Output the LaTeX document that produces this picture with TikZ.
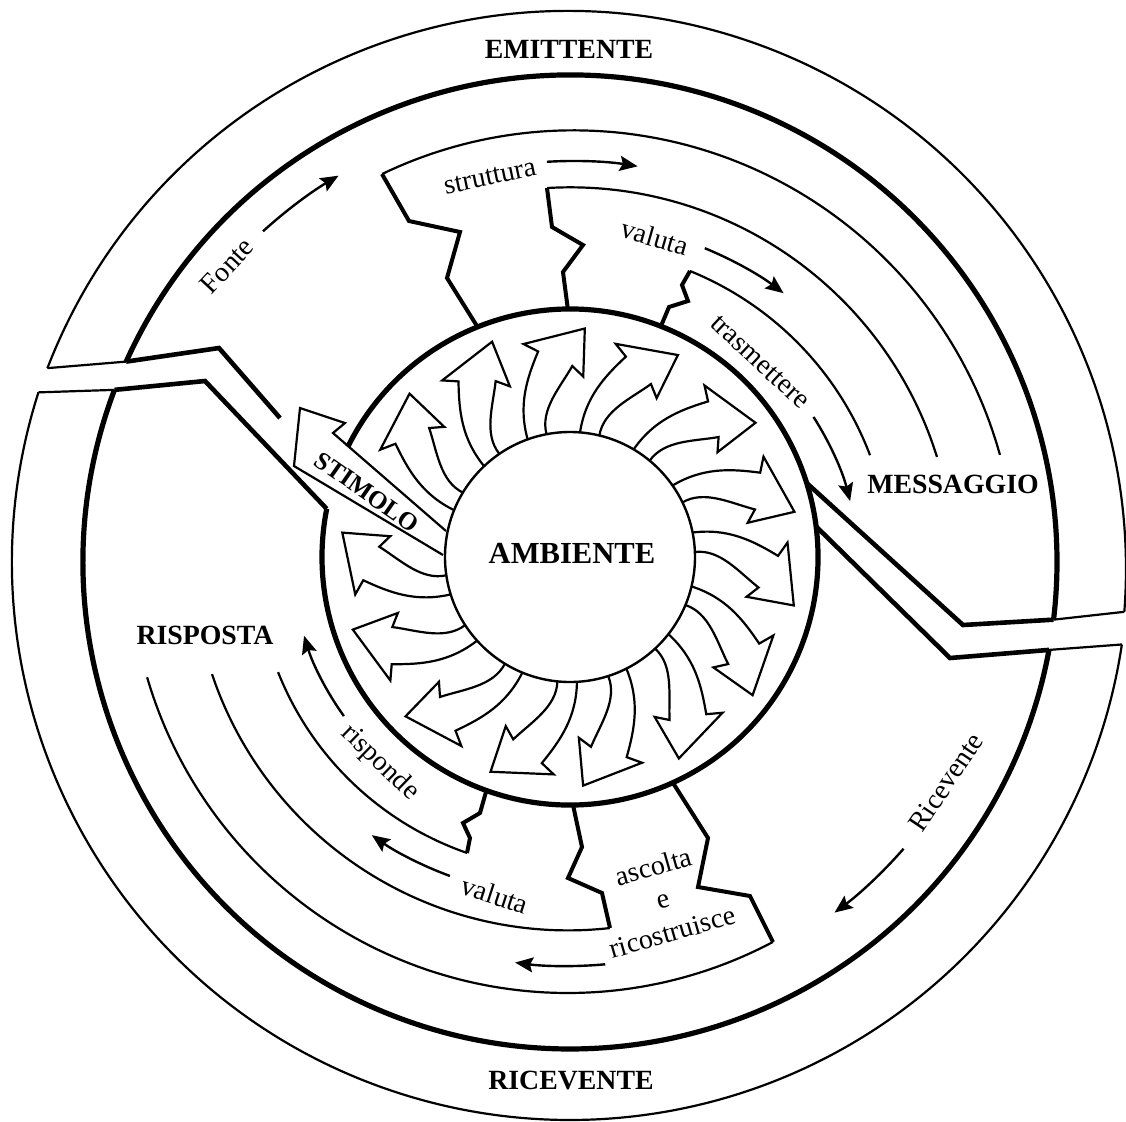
\documentclass[tikz,border=0pt]{standalone}
\usepackage{fontspec}
\setmainfont{Liberation Serif}
\usetikzlibrary{arrows.meta,calc}
\newcommand\spiralarc[6]{%
  \draw[thinarc] plot[domain=#3:#4, samples=90, variable=\t]
   ({#1+(#5+(#6-#5)*(\t-#3)/(#4-#3))*cos(\t)},
    {#2-(#5+(#6-#5)*(\t-#3)/(#4-#3))*sin(\t)});}
\begin{document}
\begin{tikzpicture}[x=0.5pt,y=-0.5pt,
  thinarc/.style={line width=1.1pt},
  heavy/.style={line width=2.6pt},
  chan/.style={line width=2.3pt, line join=miter},
  zig/.style={line width=2pt, line join=miter},
  ringarrow/.style={line width=1.1pt, line join=miter},
  flowarrow/.style={line width=1.2pt, -{Stealth[length=9pt,width=7.5pt,inset=1.5pt]}},
  caps/.style={font=\fontsize{13.9}{16}\selectfont\bfseries, inner sep=0pt},
  lab/.style={font=\fontsize{14}{17}\selectfont, inner sep=0pt}]
\useasboundingbox (0,0) rectangle (1126,1121);
\clip (0,0) rectangle (1126,1121);
\fill[white] (0,0) rectangle (1126,1121);

\coordinate (RC) at (570,557);
\coordinate (U) at (572,572);
\coordinate (L) at (568,555);
\coordinate (B) at (570,562);
\coordinate (O) at (568,569);
\coordinate (O2) at (570,562);

% outer thin circle, two halves
\draw[thinarc] ($(O)+(-158.9:558)$) coordinate (ou1) arc[start angle=-158.9, end angle=4.4, radius=558] coordinate (ou2);
\draw[thinarc] ($(O2)+(-162.3:558)$) coordinate (ol1) arc[start angle=-162.3, end angle=-351.5, radius=558] coordinate (ol2);
% big thick arcs
\draw[heavy] ($(B)+(-155.7:487)$) coordinate (bu1) arc[start angle=-155.7, end angle=6.8, radius=487] coordinate (bu2);
\draw[heavy] ($(B)+(-159.3:487)$) coordinate (bl1) arc[start angle=-159.3, end angle=-349.6, radius=487] coordinate (bl2);
% middle ring
\draw[heavy] ($(RC)+(-153.6:248)$) coordinate (rg1) arc[start angle=-153.6, end angle=191.2, radius=248] coordinate (rg2);

\coordinate (rjU) at ($(RC)+(-17.35:248)$);
\coordinate (rjL) at ($(RC)+(-7.07:248)$);
\coordinate (z1) at ($(RC)+(-111.9:248)$);
\coordinate (z2) at ($(RC)+(-90.5:248)$);
\coordinate (z3) at ($(RC)+(-68.5:248)$);
\coordinate (z4) at ($(RC)+(-250.3:248)$);
\coordinate (z5) at ($(RC)+(-270.7:248)$);
\coordinate (z6) at ($(RC)+(-294.5:248)$);

% channel between the two halves
\draw[thinarc] (ou1) -- (bu1);
\draw[chan] (bu1) -- (219,348) -- (280,418);
\draw[thinarc] (ol1) -- (bl1);
\draw[chan] (bl1) -- (205,381) -- (rg2);
\draw[chan] (rjU) -- (963,625) -- (bu2);
\draw[thinarc] (bu2) -- (ou2);
\draw[chan] (rjL) -- (950,658) -- (bl2);
\draw[thinarc] (bl2) -- (ol2);

% zigzag separators
\draw[zig] (z1) -- (447,278) -- (460,232) -- (409,221) -- (382,174);
\draw[zig] (z2) -- (563,272) -- (583,245) -- (552,227) -- (547,188);
\draw[zig] (z3) -- (669,307) -- (688,301) -- (682,285) -- (690,271);
\draw[zig] (z4) -- (480,813) -- (463,823) -- (470,838) -- (467,853);
\draw[zig] (z5) -- (582,847) -- (568,878) -- (602,893) -- (610,928);
\draw[zig] (z6) -- (708,838) -- (698,887) -- (750,896) -- (773,942);

% concentric thin arcs
\spiralarc{572}{572}{15.3}{115.5}{443.7}{441.0}
\spiralarc{572}{572}{17.5}{93.7}{382.7}{384.8}
\spiralarc{572}{572}{21.4}{68.6}{320.1}{323.3}
\spiralarc{568}{555}{196.2}{297.9}{438.3}{437.9}
\spiralarc{568}{555}{198.5}{276.4}{375.4}{375.4}
\spiralarc{568}{555}{202.0}{251.3}{312.7}{314.6}

% flow arrows
\draw[flowarrow] ($(U)+(-132.2:460)$) arc[start angle=-132.2, end angle=-120.5, radius=460];
\draw[flowarrow] ($(U)+(-93.5:411)$) arc[start angle=-93.5, end angle=-80.8, radius=411];
\draw[flowarrow] ($(U)+(-67.7:350)$) arc[start angle=-67.7, end angle=-52.8, radius=350];
\draw[flowarrow] ($(U)+(-32.7:287)$) arc[start angle=-32.7, end angle=-14.3, radius=287];
\draw[flowarrow] ($(L)+(-215.7:276)$) arc[start angle=-215.7, end angle=-197, radius=276];
\draw[flowarrow] ($(L)+(-249.8:342)$) arc[start angle=-249.8, end angle=-235, radius=342];
\draw[flowarrow] ($(L)+(-275.2:411)$) arc[start angle=-275.2, end angle=-262.6, radius=411];
\draw[flowarrow] ($(L)+(-318.8:446)$) arc[start angle=-318.8, end angle=-306.7, radius=446];

% radial swirling arrows
\foreach \a in {105.3,80.9,54.9,30.4,6.8,-18.1,-42.6,-67.7,-91.3,-116.9,-142.5,192.9,153.5,128.9}{
  \begin{scope}[shift={(570,557)}, rotate=\a, yscale=-1]
    \draw[ringarrow] (124.6,9.8) .. controls (160,10) and (183,-5) .. (206.7,-23.5)
      -- (217.7,-11.4) -- (216.5,-74.6) -- (170.6,-60.4) -- (183.6,-52.6)
      .. controls (166,-35) and (150,-9.8) .. (124.6,-9.8);
  \end{scope}
}
% STIMOLO arrow
\draw[ringarrow] (446,531) -- (333,433) -- (345,423) -- (300,408) -- (294,466) -- (443,555);

% centre
\draw[line width=1.2pt, fill=white] (RC) circle[radius=125];

% labels
\node[caps] (emit) at (569,49) {EMITTENTE};
\node[caps] (ricv) at (571,1080) {RICEVENTE};
\node[caps] (mess) at (953,484) {MESSAGGIO};
\node[caps] (risp) at (205,635) {RISPOSTA};
\node[inner sep=0pt, font=\fontsize{15.3}{17}\selectfont\bfseries] (amb) at (572,553) {AMBIENTE};
\node[inner sep=0pt, font=\fontsize{12.6}{14}\selectfont\bfseries, rotate=-35] (stim) at (367,492) {STIMOLO};
\node[lab, rotate=47] (fonte) at (227,266) {Fonte};
\node[lab, rotate=12] (strut) at (490,177) {struttura};
\node[lab, rotate=-16] (valu) at (655,237) {valuta};
\node[lab, rotate=-43] (trasm) at (760,362) {trasmettere};
\node[lab, rotate=-44] (risd) at (380,763) {risponde};
\node[lab, rotate=-18] (vald) at (495,895) {valuta};
\node[lab, rotate=16, align=center] (asc) at (663,899) {ascolta\\e\\ricostruisce};
\node[lab, rotate=56] (ricl) at (946,782) {Ricevente};
\end{tikzpicture}
\end{document}
